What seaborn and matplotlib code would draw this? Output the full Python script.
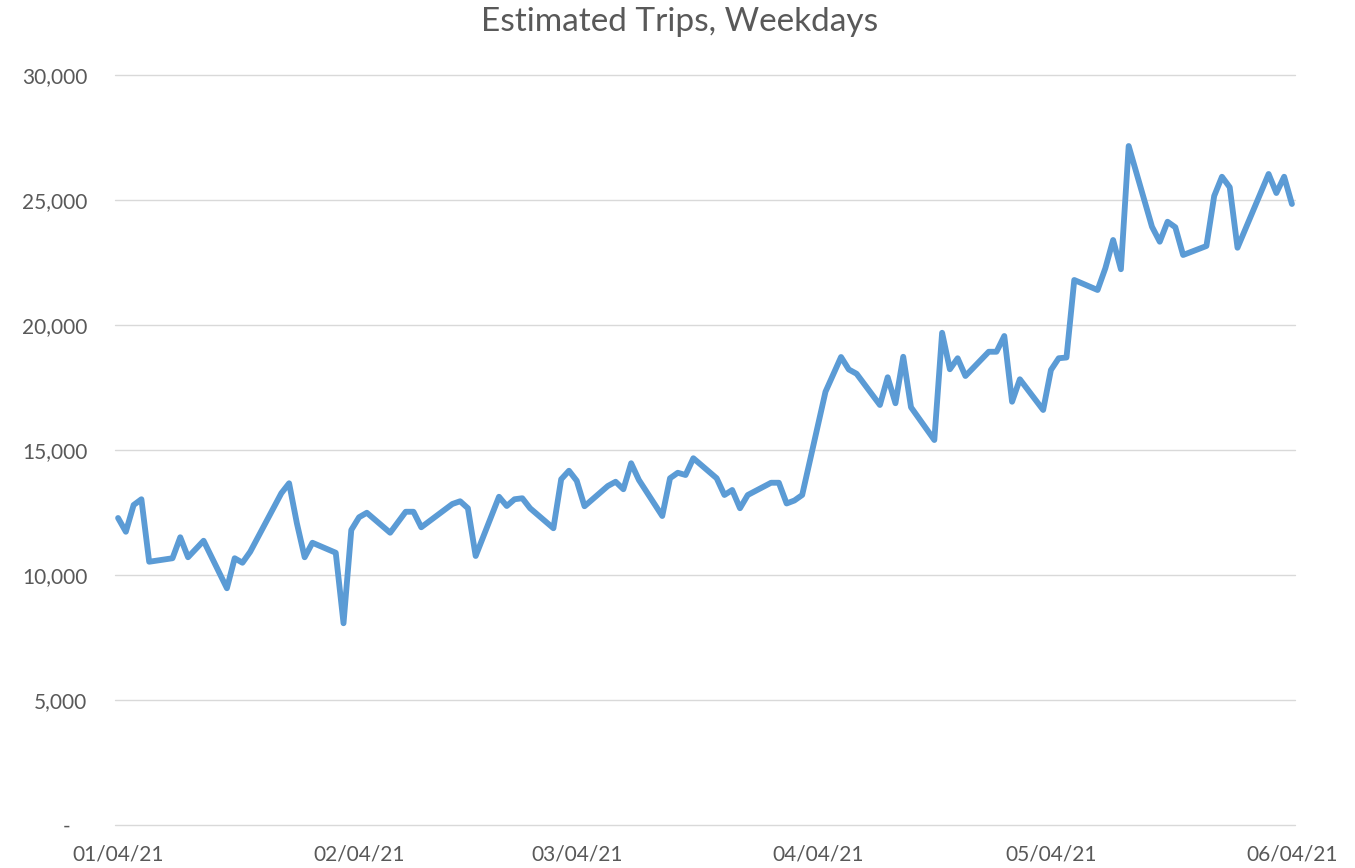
import matplotlib
matplotlib.use("Agg")
import matplotlib.pyplot as plt
import matplotlib.dates as mdates
import seaborn as sns
import pandas as pd
import numpy as np

dates = [
    "2021-01-04", "2021-01-05", "2021-01-06", "2021-01-07", "2021-01-08",
    "2021-01-11", "2021-01-12", "2021-01-13", "2021-01-15",
    "2021-01-18", "2021-01-19", "2021-01-20", "2021-01-21",
    "2021-01-25", "2021-01-26", "2021-01-27", "2021-01-28", "2021-01-29",
    "2021-02-01", "2021-02-02", "2021-02-03", "2021-02-04", "2021-02-05",
    "2021-02-08", "2021-02-10", "2021-02-11", "2021-02-12",
    "2021-02-16", "2021-02-17", "2021-02-18", "2021-02-19",
    "2021-02-22", "2021-02-23", "2021-02-24", "2021-02-25", "2021-02-26",
    "2021-03-01", "2021-03-02", "2021-03-03", "2021-03-04", "2021-03-05",
    "2021-03-08", "2021-03-09", "2021-03-10", "2021-03-11", "2021-03-12",
    "2021-03-15", "2021-03-16", "2021-03-17", "2021-03-18", "2021-03-19",
    "2021-03-22", "2021-03-23", "2021-03-24", "2021-03-25", "2021-03-26",
    "2021-03-29", "2021-03-30", "2021-03-31", "2021-04-01", "2021-04-02",
    "2021-04-05", "2021-04-07", "2021-04-08", "2021-04-09",
    "2021-04-12", "2021-04-13", "2021-04-14", "2021-04-15", "2021-04-16",
    "2021-04-19", "2021-04-20", "2021-04-21", "2021-04-22", "2021-04-23",
    "2021-04-26", "2021-04-27", "2021-04-28", "2021-04-29", "2021-04-30",
    "2021-05-03", "2021-05-04", "2021-05-05", "2021-05-06", "2021-05-07",
    "2021-05-10", "2021-05-11", "2021-05-12", "2021-05-13", "2021-05-14",
    "2021-05-17", "2021-05-18", "2021-05-19", "2021-05-20", "2021-05-21",
    "2021-05-24", "2021-05-25", "2021-05-26", "2021-05-27", "2021-05-28",
    "2021-06-01", "2021-06-02", "2021-06-03", "2021-06-04",
]

trips = [
    12280, 11730, 12800, 13030, 10530,
    10670, 11510, 10710, 11370,
    9470, 10670, 10490, 10930,
    13270, 13670, 12070, 10710, 11290,
    10890, 8070, 11800, 12310, 12490,
    11690, 12530, 12530, 11910,
    12840, 12950, 12670, 10760,
    13130, 12760, 13030, 13070, 12670,
    11870, 13830, 14170, 13770, 12750,
    13560, 13730, 13430, 14470, 13800,
    12360, 13870, 14090, 14000, 14670,
    13870, 13200, 13400, 12670, 13200,
    13690, 13690, 12860, 12980, 13200,
    17330, 18720, 18220, 18050,
    16800, 17910, 16870, 18730, 16710,
    15400, 19690, 18230, 18670, 17960,
    18930, 18930, 19560, 16930, 17830,
    16600, 18200, 18670, 18700, 21800,
    21400, 22270, 23400, 22230, 27160,
    23930, 23330, 24130, 23910, 22800,
    23160, 25160, 25930, 25510, 23090,
    26040, 25280, 25930, 24840,
]

tick_dates = ["2021-01-04", "2021-02-04", "2021-03-04", "2021-04-04", "2021-05-04", "2021-06-04"]
y_ticks = [0, 5000, 10000, 15000, 20000, 25000, 30000]
y_tick_labels = ["-   ", "5,000", "10,000", "15,000", "20,000", "25,000", "30,000"]

title = "Estimated Trips, Weekdays"

df = pd.DataFrame({"date": pd.to_datetime(dates), "trips": trips})

sns.set_theme(style="white")
plt.rcParams["font.family"] = ["Lato", "DejaVu Sans"]

text_color = "#595959"
grid_color = "#D9D9D9"
line_color = "#5B9BD5"

fig = plt.figure(figsize=(13.55, 8.68), dpi=100)
ax = fig.add_axes([115 / 1355, 43 / 868, 1180 / 1355, 750 / 868])

sns.lineplot(data=df, x="date", y="trips", ax=ax, color=line_color,
             linewidth=4.2, solid_joinstyle="round", solid_capstyle="round")

start = pd.Timestamp(tick_dates[0]) - pd.Timedelta(hours=9.5)
end = pd.Timestamp(tick_dates[-1]) + pd.Timedelta(hours=9.5)
ax.set_xlim(start, end)
ax.set_ylim(0, 30000)

ax.set_yticks(y_ticks)
ax.set_yticklabels(y_tick_labels)
ax.set_xticks(pd.to_datetime(tick_dates))
ax.xaxis.set_major_formatter(mdates.DateFormatter("%m/%d/%y"))

for y in y_ticks:
    ax.axhline(y, color=grid_color, linewidth=1.0, zorder=0, clip_on=False)

for s in ax.spines.values():
    s.set_visible(False)

ax.tick_params(axis="y", length=0, pad=20, labelsize=15, labelcolor=text_color)
ax.tick_params(axis="x", length=0, pad=14, labelsize=15, labelcolor=text_color)
ax.set_xlabel("")
ax.set_ylabel("")

fig.text(680 / 1355, 1 - 22 / 868, title, ha="center", va="center",
         fontsize=24, color=text_color)

fig.savefig("out.png", dpi=100)
